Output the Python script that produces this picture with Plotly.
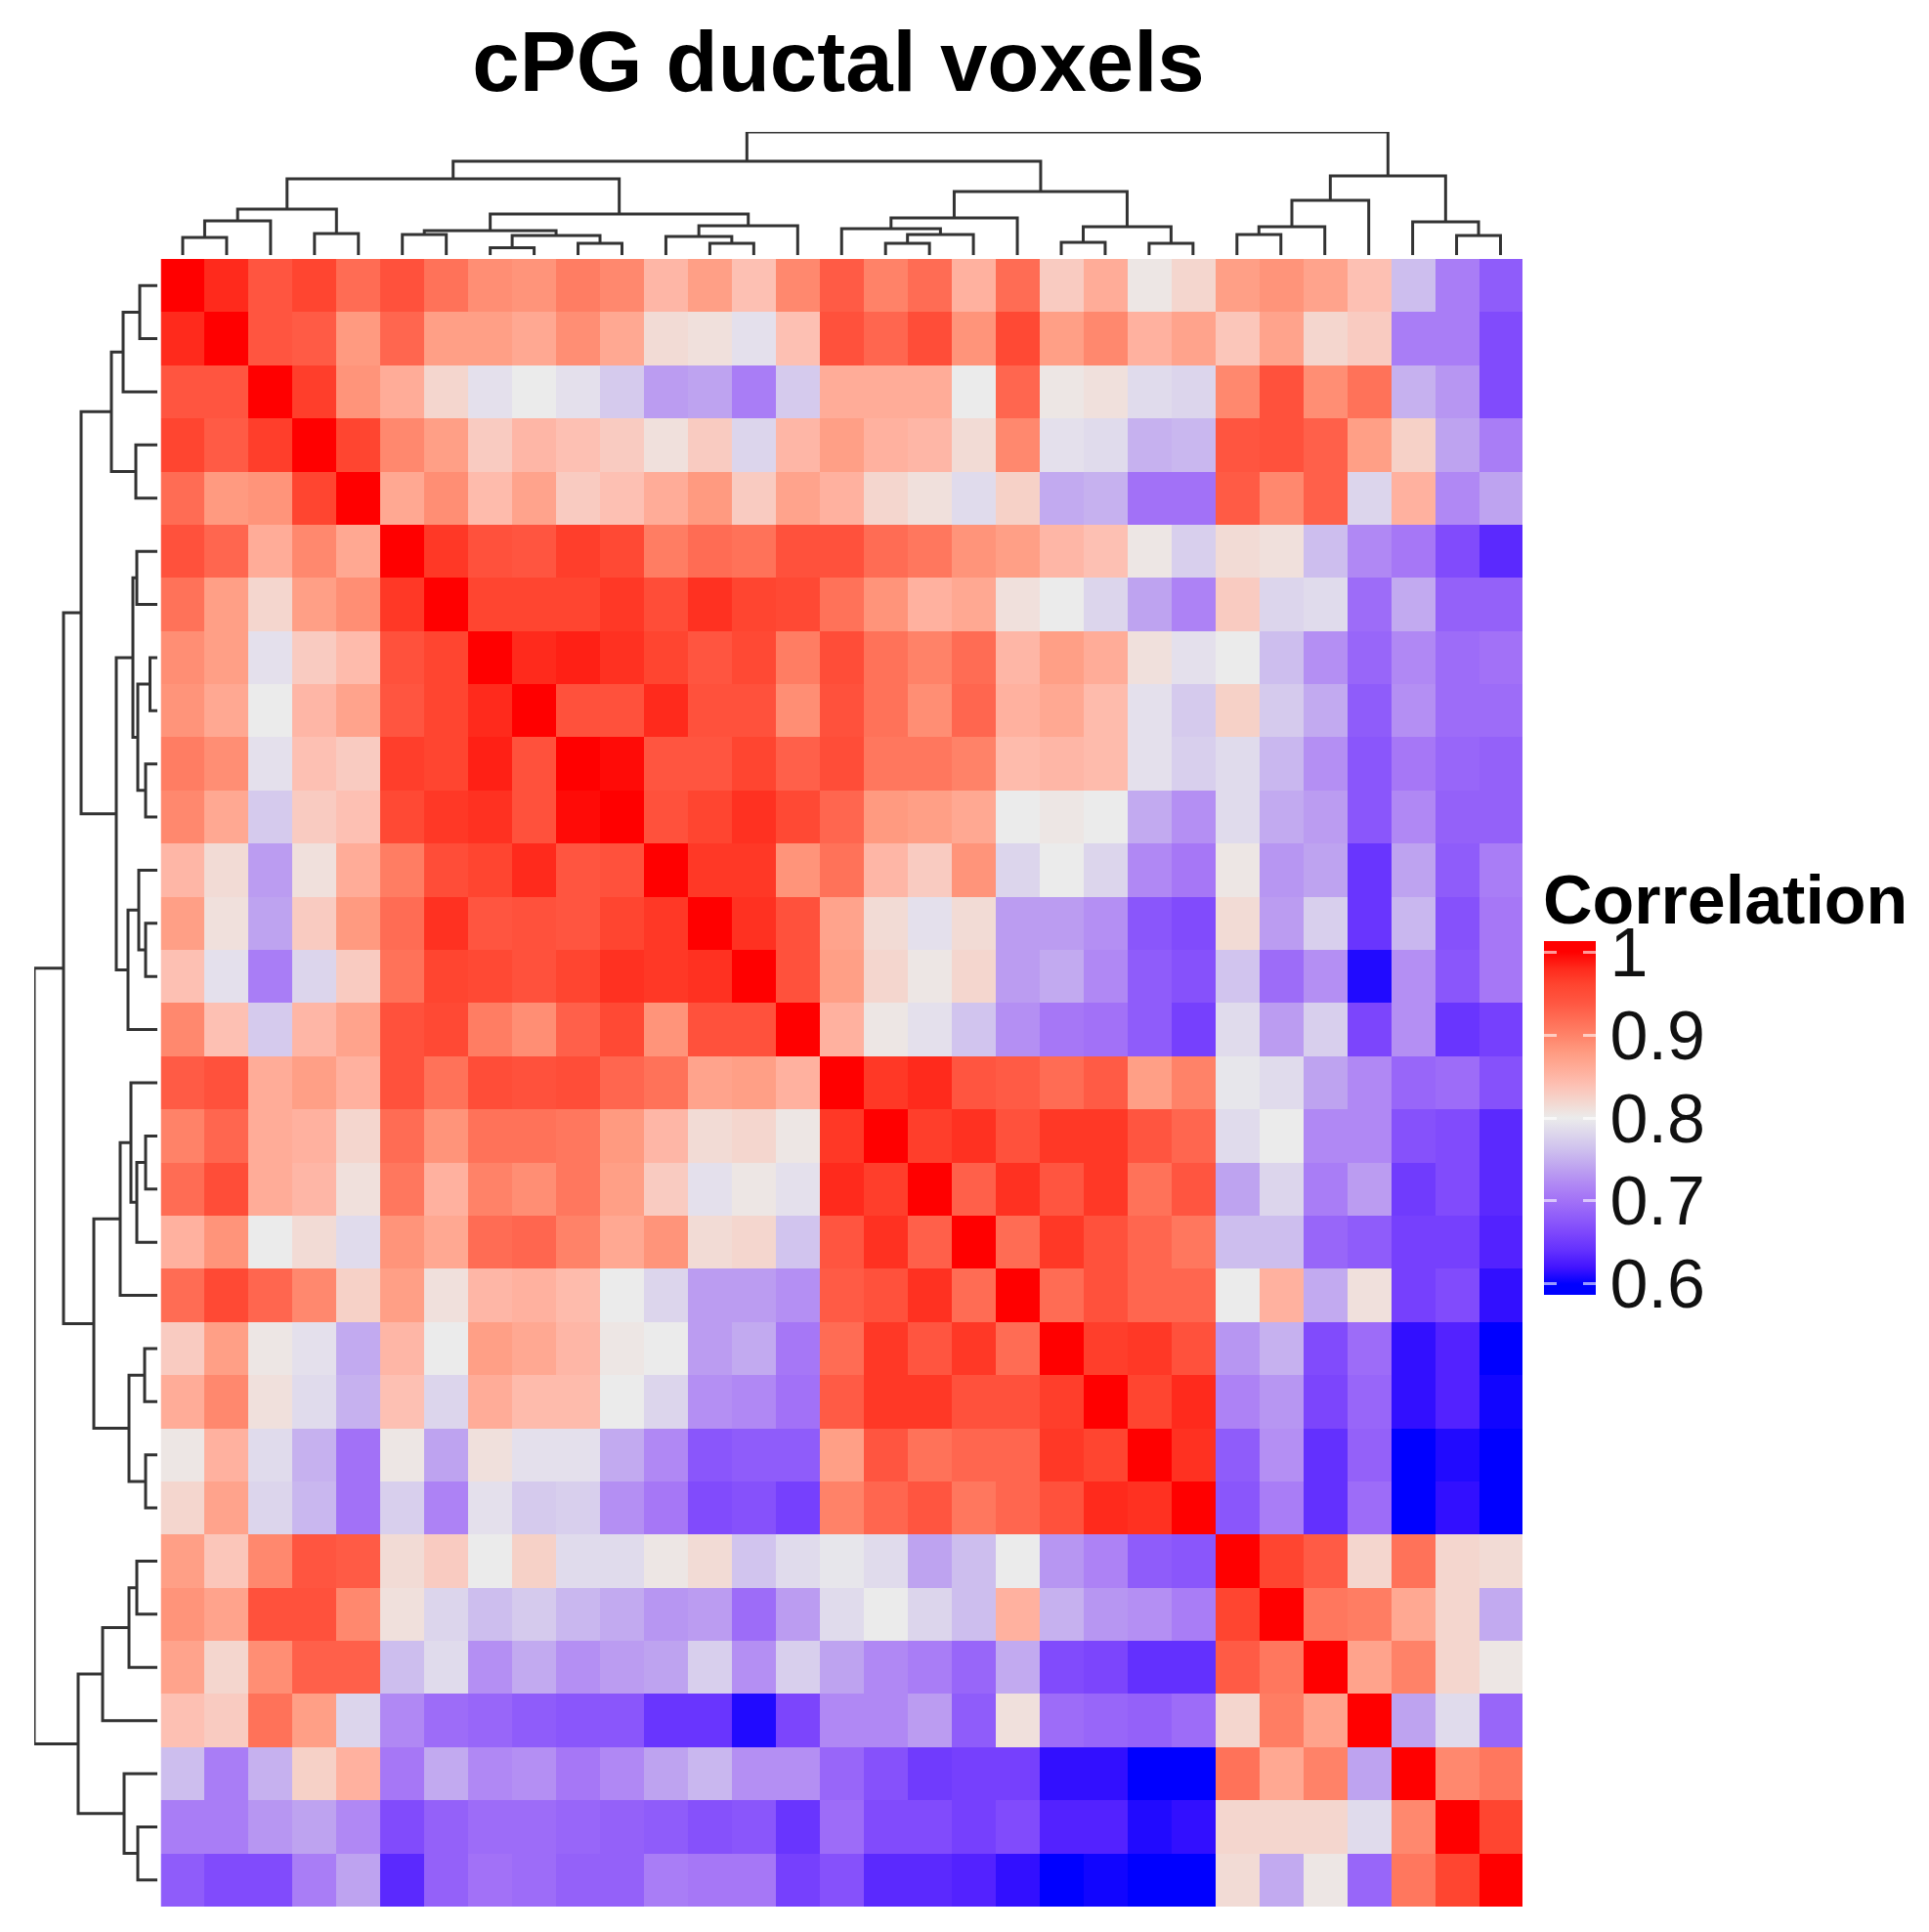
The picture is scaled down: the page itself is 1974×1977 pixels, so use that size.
import plotly.graph_objects as go

# ---- data: upper triangle of the correlation matrix, each row starts at its diagonal cell
r00 = [1.0,.98,.94,.96,.92,.945,.915,.89,.885,.905,.895,.85,.875,.84,.895,.935,.90,.92,.855,.92,.83,.86,.805,.82,.875,.885,.87,.84,.76,.71,.68]
r01 = [1.0,.94,.935,.88,.925,.875,.875,.865,.89,.865,.815,.81,.79,.84,.945,.925,.95,.885,.955,.875,.895,.855,.87,.835,.87,.82,.83,.71,.71,.665]
r02 = [1.0,.965,.885,.86,.82,.79,.80,.79,.77,.735,.74,.71,.77,.86,.86,.86,.80,.925,.805,.81,.785,.78,.895,.945,.89,.915,.75,.73,.665]
r03 = [1.0,.96,.895,.875,.83,.85,.84,.83,.81,.83,.78,.85,.875,.855,.85,.815,.895,.79,.785,.75,.755,.94,.945,.93,.875,.825,.74,.71]
r04 = [1.0,.865,.89,.845,.87,.83,.84,.86,.88,.83,.87,.855,.82,.81,.785,.825,.745,.75,.70,.70,.935,.895,.93,.78,.855,.72,.74]
r05 = [1.0,.97,.945,.94,.965,.955,.905,.92,.915,.945,.945,.92,.91,.885,.875,.85,.84,.805,.775,.815,.81,.76,.72,.705,.665,.635]
r06 = [1.0,.96,.96,.96,.97,.95,.975,.96,.955,.915,.885,.855,.865,.81,.80,.78,.74,.715,.83,.78,.785,.695,.745,.685,.685]
r07 = [1.0,.98,.985,.975,.96,.94,.955,.905,.95,.915,.90,.92,.85,.875,.86,.81,.79,.80,.76,.725,.69,.72,.695,.70]
r08 = [1.0,.945,.945,.98,.945,.945,.89,.945,.915,.89,.925,.855,.865,.845,.79,.77,.825,.77,.745,.68,.725,.695,.695]
r09 = [1.0,.995,.94,.94,.96,.93,.95,.91,.91,.90,.845,.85,.845,.79,.775,.785,.755,.725,.675,.705,.69,.685]
r10 = [1.0,.945,.96,.975,.955,.925,.88,.875,.865,.80,.805,.80,.745,.725,.785,.745,.735,.675,.72,.685,.685]
r11 = [1.0,.97,.97,.885,.915,.85,.83,.885,.78,.80,.78,.72,.705,.805,.73,.74,.645,.74,.68,.71]
r12 = [1.0,.975,.945,.87,.815,.79,.815,.735,.735,.725,.675,.665,.815,.735,.775,.645,.755,.67,.705]
r13 = [1.0,.945,.875,.82,.805,.82,.735,.745,.72,.68,.67,.765,.695,.725,.61,.725,.675,.705]
r14 = [1.0,.855,.805,.79,.765,.725,.705,.70,.68,.655,.785,.735,.775,.66,.725,.645,.655]
r15 = [1.0,.97,.98,.94,.935,.92,.935,.875,.90,.795,.785,.74,.72,.69,.695,.67]
r16 = [1.0,.965,.975,.945,.97,.97,.94,.925,.785,.80,.72,.72,.67,.665,.635]
r17 = [1.0,.93,.975,.94,.97,.915,.94,.74,.78,.71,.735,.65,.665,.635]
r18 = [1.0,.92,.97,.945,.925,.91,.76,.76,.69,.68,.655,.655,.63]
r19 = [1.0,.92,.945,.925,.925,.80,.855,.745,.81,.655,.665,.615]
r20 = [1.0,.965,.97,.945,.73,.75,.665,.695,.615,.63,.60]
r21 = [1.0,.96,.98,.715,.73,.66,.69,.615,.63,.605]
r22 = [1.0,.975,.68,.725,.64,.685,.60,.61,.60]
r23 = [1.0,.675,.71,.64,.695,.60,.615,.60]
r24 = [1.0,.96,.935,.82,.915,.82,.815]
r25 = [1.0,.91,.905,.865,.82,.745]
r26 = [1.0,.87,.90,.82,.805]
r27 = [1.0,.74,.785,.69]
r28 = [1.0,.895,.91]
r29 = [1.0,.96]
r30 = [1.0]
upper_rows = [r00,r01,r02,r03,r04,r05,r06,r07,r08,r09,r10,r11,r12,r13,r14,r15,
              r16,r17,r18,r19,r20,r21,r22,r23,r24,r25,r26,r27,r28,r29,r30]

# dendrogram merges: child ids below 31 are leaves, 31 and above are earlier merges
merge_a = [0,31,3,32,5,7,9,36,35,12,11,41,39,34,16,45,15,47,20,22,49,48,44,24,54,55,29,28,56,53]
merge_b = [1,2,4,33,6,8,10,37,38,13,40,14,42,43,17,18,46,19,21,23,50,51,52,25,26,27,30,57,58,59]
merge_h = [18,35,22,47,21,7.5,12,20,25,12,19,30,42,78,12,21,27,38,13,12,29,65,96,21,29,56,20,34,81,126]

tick_values = [0.6,0.7,0.8,0.9,1]
tick_labels = ["0.6","0.7","0.8","0.9","1"]
title_text = "cPG ductal voxels"
legend_title = "Correlation"

# colour ramp
ramp_values = [.60,.62,.64,.66,.68,.70,.72,.74,.76,.78,.80,.82,.84,.86,.88,.90,.92,.94,.96,.98,1.0]
ramp_colors = ["#0000FF","#4214FF","#6330FE","#7C45FC","#8F5CFA","#A271F7","#B088F4","#BEA3F0","#CDBEEE","#DCD5EC",
               "#EBEBEB","#F4D6CE","#FDC0B3","#FFAC98","#FF9A80","#FF8268","#FF6C54","#FF5540","#FF4530","#FF2A1C","#FF0000"]

# ---- styles and layout
W, H = 1974, 1977
L, R, T, B = 164.5, 1558, 265, 1951
ZMIN, ZMAX = 0.587, 1.013
FONT = "Liberation Sans, Arial, sans-serif"
LINE = "#333333"

n = len(upper_rows)
z = [[0.0]*n for _ in range(n)]
for i, row in enumerate(upper_rows):
    for k, v in enumerate(row):
        z[i][i+k] = v
        z[i+k][i] = v
idx = list(range(n))

stops = [[0, ramp_colors[0]]] + [[(v-ZMIN)/(ZMAX-ZMIN), c] for v, c in zip(ramp_values, ramp_colors)] + [[1, ramp_colors[-1]]]

pos = {i: float(i) for i in idx}
hgt = {i: 0.0 for i in idx}
tree_p, tree_h = [], []
for m, (a, b, h) in enumerate(zip(merge_a, merge_b, merge_h)):
    tree_p += [pos[a], pos[a], pos[b], pos[b], None]
    tree_h += [hgt[a], h, h, hgt[b], None]
    pos[n+m] = (pos[a]+pos[b])/2
    hgt[n+m] = h

fig = go.Figure()
fig.add_trace(go.Heatmap(
    z=z, x=idx, y=idx, zmin=ZMIN, zmax=ZMAX, colorscale=stops, xaxis="x", yaxis="y",
    colorbar=dict(
        x=1580/W, xanchor="left", xpad=0, y=1-963/H, yanchor="top", ypad=0,
        len=362, lenmode="pixels", thickness=53, thicknessmode="pixels",
        outlinewidth=0, tickvals=tick_values, ticktext=tick_labels,
        ticks="inside", ticklen=13, tickwidth=3, tickcolor="rgba(255,255,255,0.6)",
        tickfont=dict(family=FONT, size=70, color="#111111"),
    )))
# transparent companion colour bar: it carries the tick stubs on the left side of the bar
fig.add_trace(go.Heatmap(
    z=[[ZMIN, ZMAX]], zmin=ZMIN, zmax=ZMAX, xaxis="x", yaxis="y", hoverinfo="skip",
    colorscale=[[0, "rgba(0,0,0,0)"], [1, "rgba(0,0,0,0)"]],
    colorbar=dict(
        x=1580/W, xanchor="left", xpad=0, y=1-963/H, yanchor="top", ypad=0,
        len=362, lenmode="pixels", thickness=13, thicknessmode="pixels",
        outlinewidth=0, tickvals=tick_values, showticklabels=False,
        ticks="inside", ticklen=13, tickwidth=3, tickcolor="rgba(255,255,255,0.6)",
    )))
fig.add_trace(go.Scatter(x=tree_p, y=tree_h, mode="lines", xaxis="x2", yaxis="y2", cliponaxis=False,
                         line=dict(color=LINE, width=3), hoverinfo="skip", showlegend=False))
fig.add_trace(go.Scatter(x=tree_h, y=tree_p, mode="lines", xaxis="x3", yaxis="y3", cliponaxis=False,
                         line=dict(color=LINE, width=3), hoverinfo="skip", showlegend=False))

hidden = dict(visible=False, showgrid=False, zeroline=False)
dx = [L/W, R/W]
dy = [1-B/H, 1-T/H]
fig.update_layout(
    width=W, height=H, autosize=False, showlegend=False,
    paper_bgcolor="white", plot_bgcolor="white",
    margin=dict(l=0, r=0, t=0, b=0, pad=0, autoexpand=False),
    title=dict(text="<b>"+title_text+"</b>", x=858/W, xanchor="center", y=1-63/H, yanchor="middle",
               yref="container", xref="paper", font=dict(family=FONT, size=87, color="black")),
    annotations=[dict(text="<b>"+legend_title+"</b>", xref="paper", yref="paper", x=1578/W, xanchor="left",
                      y=1-961/H, yanchor="bottom", showarrow=False, borderpad=0,
                      font=dict(family=FONT, size=70, color="black"))],
    xaxis=dict(domain=dx, range=[-.5, n-.5], anchor="y", **hidden),
    yaxis=dict(domain=dy, range=[n-.5, -.5], anchor="x", **hidden),
    xaxis2=dict(domain=dx, range=[-.5, n-.5], anchor="y2", **hidden),
    yaxis2=dict(domain=[1-261/H, 1-135/H], range=[0, 126], anchor="x2", **hidden),
    xaxis3=dict(domain=[35/W, 161/W], range=[126, 0], anchor="y3", **hidden),
    yaxis3=dict(domain=dy, range=[n-.5, -.5], anchor="x3", **hidden),
)
fig.write_html("out.html", config=dict(displayModeBar=False),
               post_script="document.body.style.margin='0';document.body.style.overflow='hidden';")
